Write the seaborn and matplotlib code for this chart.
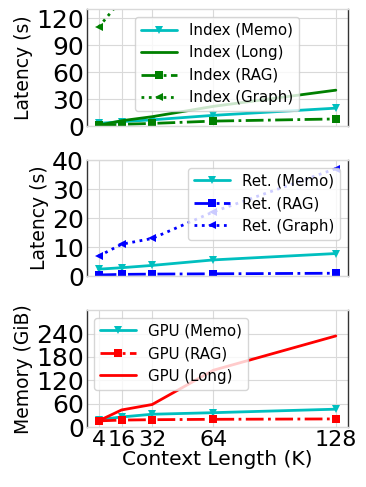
import matplotlib
matplotlib.use("Agg")
import matplotlib.pyplot as plt
import seaborn as sns
import numpy as np

sns.set_theme(style="whitegrid", color_codes=False)
plt.rcParams['font.family'] = ['DejaVu Sans']
plt.rcParams['text.color'] = 'black'
plt.rcParams['axes.labelcolor'] = 'black'
plt.rcParams['legend.edgecolor'] = '0.8'

ctx = [4, 16, 32, 64, 128]

idx_memo = [3, 5, 7, 12, 20]
idx_long = [1, 6, 10.5, 22, 40]
idx_rag = [1, 2, 3, 5.6, 8]
idx_graph = [110, 141, 230, 420, 800]

ret_memo = [2.4, 2.9, 3.7, 5.6, 7.8]
ret_rag = [0.4, 0.6, 0.7, 0.8, 1.0]
ret_graph = [6.9, 11.0, 13.0, 22.2, 37.1]

gpu_memo = [19, 26, 33, 37, 46]
gpu_rag = [16, 18, 19, 20, 21]
gpu_long = [16, 44, 58, 146, 234]

CYAN, GREEN, BLUE, RED = '#00bfbf', '#008000', '#0000ff', '#ff0000'

fig = plt.figure(figsize=(3.66, 4.87), dpi=100)
L, W = 0.237, 0.713
ax1 = fig.add_axes([L, 0.741, W, 0.240])
ax2 = fig.add_axes([L, 0.433, W, 0.238])
ax3 = fig.add_axes([L, 0.123, W, 0.240])

lw = 2
ms = 6

def line(ax, y, color, ls, marker, label):
    sns.lineplot(x=ctx, y=y, ax=ax, color=color, linestyle=ls, marker=marker,
                 markersize=ms, markeredgewidth=0, linewidth=lw, label=label)

line(ax1, idx_memo, CYAN, '-', 'v', 'Index (Memo)')
line(ax1, idx_long, GREEN, '-', None, 'Index (Long)')
line(ax1, idx_rag, GREEN, '-.', 's', 'Index (RAG)')
line(ax1, idx_graph, GREEN, ':', '<', 'Index (Graph)')
ax1.set_ylim(0, 130)
ax1.set_yticks([0, 30, 60, 90, 120])

line(ax2, ret_memo, CYAN, '-', 'v', 'Ret. (Memo)')
line(ax2, ret_rag, BLUE, '-.', 's', 'Ret. (RAG)')
line(ax2, ret_graph, BLUE, ':', '<', 'Ret. (Graph)')
ax2.set_ylim(0, 40)
ax2.set_yticks([0, 10, 20, 30, 40])

line(ax3, gpu_memo, CYAN, '-', 'v', 'GPU (Memo)')
line(ax3, gpu_rag, RED, '-.', 's', 'GPU (RAG)')
line(ax3, gpu_long, RED, '-', None, 'GPU (Long)')
ax3.set_ylim(0, 300)
ax3.set_yticks([0, 60, 120, 180, 240])

for ax in (ax1, ax2, ax3):
    ax.set_xlim(-2.2, 134.2)
    ax.set_xticks(ctx)
    ax.tick_params(axis='y', labelsize=18, pad=2, length=0, labelcolor='black')
    ax.tick_params(axis='x', labelsize=16, pad=2, length=0, labelcolor='black')
    for s in ('left', 'right'):
        ax.spines[s].set_color('0.2')
        ax.spines[s].set_linewidth(1.0)
    for s in ('top', 'bottom'):
        ax.spines[s].set_color('0.85')
        ax.spines[s].set_linewidth(1.0)
    ax.grid(True, color='0.85', linewidth=0.8)
    ax.set_xlabel('')

ax1.set_xticklabels([])
ax2.set_xticklabels([])
ax3.set_xticklabels([str(c) for c in ctx])
ax3.set_xlabel('Context Length (K)', fontsize=14.5, labelpad=0, color='black')

ax1.set_ylabel('Latency (s)', fontsize=13.5, labelpad=2, color='black')
ax2.set_ylabel('Latency (s)', fontsize=13.5, labelpad=2, color='black')
ax3.set_ylabel('Memory (GiB)', fontsize=13.5, labelpad=2, color='black')

for ax, loc in ((ax1, 'upper center'), (ax2, 'upper right'), (ax3, 'upper left')):
    leg = ax.legend(loc=loc, fontsize=10.8, handlelength=2.4, frameon=True)
    for t in leg.get_texts():
        t.set_color('black')

fig.savefig('out.png', dpi=100)
